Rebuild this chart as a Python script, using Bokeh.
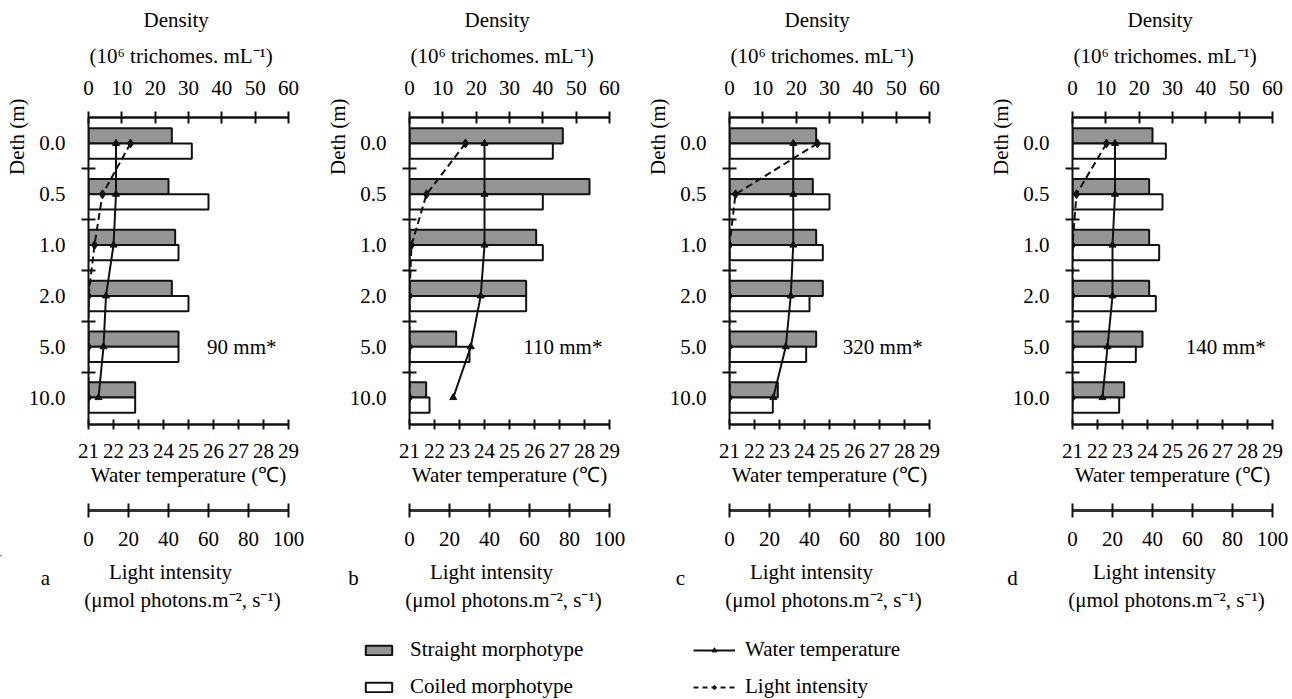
import numpy as np
from bokeh.plotting import figure
from bokeh.models import (Range1d, LinearAxis, FixedTicker, Label, Legend, LegendItem,
                          Title)
from bokeh.layouts import row, column
from bokeh.embed import file_html
from bokeh.resources import INLINE

# ---------------- data ----------------
depths = ["0.0", "0.5", "1.0", "2.0", "5.0", "10.0"]
density_ticks = [0, 10, 20, 30, 40, 50, 60]
temp_ticks = [21, 22, 23, 24, 25, 26, 27, 28, 29]
light_ticks = [0, 20, 40, 60, 80, 100]
panel_letters = ["a", "b", "c", "d"]
rain_labels = ["90 mm*", "110 mm*", "320 mm*", "140 mm*"]

straight_a = [25, 24, 26, 25, 27, 14]
coiled_a = [31, 36, 27, 30, 27, 14]
temp_a = [22.1, 22.1, 22.0, 21.7, 21.6, 21.4]
light_a = [21, 7, 3, 0, 0, 0]

straight_b = [46, 54, 38, 35, 14, 5]
coiled_b = [43, 40, 40, 35, 18, 6]
temp_b = [24.0, 24.0, 24.0, 23.85, 23.45, 22.75]
light_b = [28, 8.5, 1, 0, 0, 0]

straight_c = [26, 25, 26, 28, 26, 14.5]
coiled_c = [30, 30, 28, 24, 23, 13]
temp_c = [23.55, 23.55, 23.55, 23.45, 23.25, 22.75]
light_c = [44, 3, 0, 0, 0, 0]

straight_d = [24, 23, 23, 23, 21, 15.5]
coiled_d = [28, 27, 26, 25, 19, 14]
temp_d = [22.7, 22.7, 22.6, 22.6, 22.4, 22.2]
light_d = [17, 2, 0, 0, 0, 0]

# ---------------- style ----------------
FONT = "Liberation Serif"
FS = "21px"
GRAY = "#959595"
INK = "#111111"
PH = 555          # panel figure height
TOP = 117         # frame top
FRAME_H = 307     # frame height
FRAME_W = 200


def style_axis(ax):
    ax.axis_line_color = INK
    ax.axis_line_width = 2.5
    ax.major_tick_line_color = INK
    ax.major_tick_line_width = 2
    ax.minor_tick_line_color = None
    ax.major_label_text_font = FONT
    ax.major_label_text_font_size = FS
    ax.major_label_text_color = "black"
    ax.axis_label_text_font = FONT
    ax.axis_label_text_font_size = FS
    ax.axis_label_text_font_style = "normal"
    ax.axis_label_text_color = "black"


def title(text, align="left", offset=0, standoff=0):
    return Title(text=text, align=align, offset=offset, standoff=standoff,
                 text_font=FONT, text_font_size=FS, text_font_style="normal",
                 text_color="black")


def make_panel(k, straight, coiled, temp, light, left, right):
    ys = np.arange(len(depths))
    p = figure(width=left + FRAME_W + right, height=PH,
               x_range=Range1d(0, 60), y_range=Range1d(5.53, -0.51),
               x_axis_location="above", output_backend="svg", toolbar_location=None,
               min_border_left=left, min_border_right=right,
               min_border_top=TOP, min_border_bottom=PH - TOP - FRAME_H)
    p.extra_x_ranges = {"temp": Range1d(21, 29), "light": Range1d(0, 100)}
    p.outline_line_color = None
    p.grid.visible = False

    # top density axis
    ax = p.xaxis[0]
    style_axis(ax)
    ax.ticker = FixedTicker(ticks=density_ticks)
    ax.major_tick_in = 6
    ax.major_tick_out = 6
    ax.major_label_standoff = 17
    # axis title (two lines, slightly left of the axis centre as in the source)
    p.add_layout(title("(10\u2076 trichomes. mL\u207b\u00b9)", offset=1, standoff=19), "above")
    p.add_layout(title("Density", offset=55, standoff=2), "above")

    # left depth axis
    ay = p.yaxis[0]
    style_axis(ay)
    ay.axis_line_width = 2
    ay.ticker = FixedTicker(ticks=list(range(len(depths))),
                            minor_ticks=[i + 0.5 for i in range(len(depths) - 1)])
    ay.major_label_overrides = {i: d for i, d in enumerate(depths)}
    ay.major_tick_line_color = None
    ay.major_tick_in = 0
    ay.major_tick_out = 0
    ay.minor_tick_line_color = INK
    ay.minor_tick_line_width = 2
    ay.minor_tick_in = 7
    ay.minor_tick_out = 7
    ay.major_label_standoff = 16

    p.add_layout(title("Deth (m)", align="right", offset=-19, standoff=-7), "left")

    # bottom temperature axis
    at = LinearAxis(x_range_name="temp", ticker=FixedTicker(ticks=temp_ticks),
                    axis_label="Water temperature (\u2103)")
    style_axis(at)
    at.major_tick_in = 5
    at.major_tick_out = 5
    at.major_label_standoff = 14
    at.axis_label_standoff = 2
    p.add_layout(at, "below")

    # spacer between the two bottom axes
    sp = LinearAxis(x_range_name="light", ticker=FixedTicker(ticks=[50]))
    sp.axis_line_color = None
    sp.major_tick_line_color = None
    sp.minor_tick_line_color = None
    sp.major_tick_in = 0
    sp.major_tick_out = 0
    sp.major_label_standoff = 1
    sp.major_label_overrides = {50: "\u00a0"}
    sp.major_label_text_font_size = "16px"
    p.add_layout(sp, "below")

    # light axis (its title is written in the strip below)
    al = LinearAxis(x_range_name="light", ticker=FixedTicker(ticks=light_ticks))
    style_axis(al)
    al.axis_line_width = 3
    al.axis_line_color = "#333333"
    al.major_tick_in = 7
    al.major_tick_out = 7
    al.major_label_standoff = 14
    p.add_layout(al, "below")

    # bars
    p.hbar(y=ys - 0.15, left=0, right=straight, height=0.3,
           fill_color=GRAY, line_color=INK, line_width=2)
    p.hbar(y=ys + 0.15, left=0, right=coiled, height=0.3,
           fill_color="white", line_color=INK, line_width=2)

    # temperature and light profiles
    p.line(x=temp, y=ys, x_range_name="temp", line_color=INK, line_width=2)
    p.scatter(x=temp, y=ys, x_range_name="temp", marker="triangle", size=7,
              fill_color=INK, line_color=INK)
    p.line(x=light, y=ys, x_range_name="light", line_color=INK, line_width=2,
           line_dash="7 4")
    p.scatter(x=light, y=ys, x_range_name="light", marker="diamond", size=9,
              fill_color=INK, line_color=INK)

    p.add_layout(Label(x=46, y=4.0, text=rain_labels[k], text_align="center",
                       text_baseline="middle", text_font=FONT, text_font_size=FS,
                       text_color="black"))
    return p


lefts = [88, 91, 90, 113]
rights = [30, 30, 30, 20]
pa = make_panel(0, straight_a, coiled_a, temp_a, light_a, lefts[0], rights[0])
pb = make_panel(1, straight_b, coiled_b, temp_b, light_b, lefts[1], rights[1])
pc = make_panel(2, straight_c, coiled_c, temp_c, light_c, lefts[2], rights[2])
pd = make_panel(3, straight_d, coiled_d, temp_d, light_d, lefts[3], rights[3])

# frame positions of the four panels in page pixels
starts = np.cumsum([0] + [l + FRAME_W + r for l, r in zip(lefts, rights)])[:-1]
frame_left = [s + l for s, l in zip(starts, lefts)]
frame_mid = [f + FRAME_W / 2 for f in frame_left]
letter_dx = [-43, -56, -49, -60]

# ---------------- strip below: light-axis titles, panel letters, legend ----------------
SH = 699 - PH
lf = figure(width=1292, height=SH, x_range=Range1d(0, 1292), y_range=Range1d(SH, 0),
            x_axis_location=None, y_axis_location=None, output_backend="svg",
            toolbar_location=None, min_border=0)
lf.outline_line_color = None
lf.grid.visible = False

txt = dict(text_font=FONT, text_font_size=FS, text_color="black",
           text_align="center", text_baseline="middle")
for k in range(4):
    lf.add_layout(Label(x=frame_mid[k] - 18, y=16, text="Light intensity", **txt))
    lf.add_layout(Label(x=frame_mid[k] - 6, y=44,
                        text="(\u03bcmol photons.m\u207b\u00b2, s\u207b\u00b9)", **txt))
    lf.add_layout(Label(x=frame_left[k] + letter_dx[k], y=22, text=panel_letters[k], **txt))

# legend proxies, kept outside the visible ranges of this strip
r1 = lf.hbar(y=[-500], left=[-600], right=[-590], height=1, fill_color=GRAY,
             line_color=INK, line_width=2)
r2 = lf.hbar(y=[-500], left=[-600], right=[-590], height=1, fill_color="white",
             line_color=INK, line_width=2)
r3 = lf.line(x=[-600, -590], y=[-500, -500], line_color=INK, line_width=2)
r3m = lf.scatter(x=[-600], y=[-500], marker="triangle", size=7, fill_color=INK, line_color=INK)
r4 = lf.line(x=[-600, -590], y=[-500, -500], line_color=INK, line_width=2, line_dash="5 4")
r4m = lf.scatter(x=[-600], y=[-500], marker="diamond", size=9, fill_color=INK, line_color=INK)

common = dict(padding=0, margin=0, border_line_color=None, background_fill_alpha=0,
              label_text_font=FONT, label_text_font_size=FS, label_text_color="black",
              spacing=12)
leg1 = Legend(items=[LegendItem(label="Straight morphotype", renderers=[r1]),
                     LegendItem(label="Coiled morphotype", renderers=[r2])],
              location=(362, 0), glyph_width=33, glyph_height=12, label_standoff=15, **common)
leg2 = Legend(items=[LegendItem(label="Water temperature", renderers=[r3, r3m]),
                     LegendItem(label="Light intensity", renderers=[r4, r4m])],
              location=(693, 0), glyph_width=42, glyph_height=12, label_standoff=10, **common)
lf.add_layout(leg1)
lf.add_layout(leg2)

layout = column(row(pa, pb, pc, pd), lf)
open("out.html", "w").write(file_html(layout, INLINE))
